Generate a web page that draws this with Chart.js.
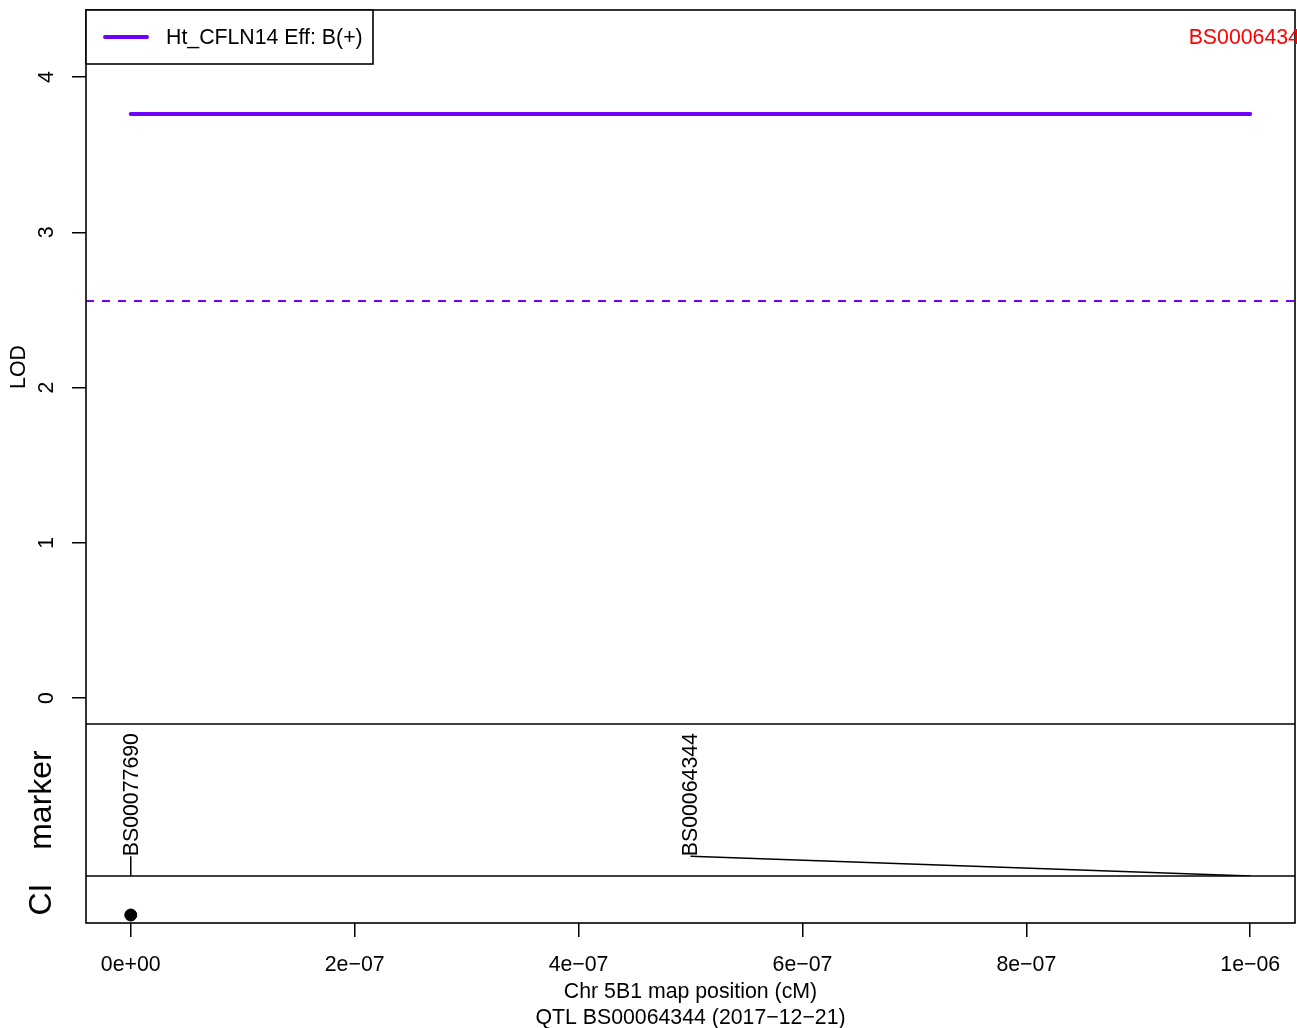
<!DOCTYPE html>
<html><head><meta charset="utf-8">
<script src="https://cdn.jsdelivr.net/npm/chart.js@4.4.1/dist/chart.umd.min.js"></script>
<style>html,body{margin:0;padding:0;background:#fff;overflow:hidden}#wrap{width:1297px;height:1028px}</style>
</head><body><div id="wrap"><canvas id="c" width="1297" height="1028"></canvas></div>
<script>
// ---- data ----
const xTickValues = [0, 2e-7, 4e-7, 6e-7, 8e-7, 1e-6];
const xTickLabels = ["0e+00", "2e\u221207", "4e\u221207", "6e\u221207", "8e\u221207", "1e\u221206"];
const yTickValues = [0, 1, 2, 3, 4];
const lodPositions = [0, 1e-6];
const lodValues = [3.762, 3.762];
const thresholdLOD = 2.557;
const markerNames = ["BS00077690", "BS00064344"];
const markerPositions = [0, 1e-6];
const markerLabelPositions = [0, 5e-7];
const ciPositions = [0];
const peakMarker = "BS00064344";
const peakPosition = 1e-6;
const traitLabel = "Ht_CFLN14 Eff: B(+)";
const xRange = [-0.04e-6, 1.04e-6];
const lodRange = [-0.1675, 4.4316];

// ---- style ----
const FONT = '"Liberation Sans", Arial, Helvetica, sans-serif';
const BASE = 21.3;
const PURPLE = '#6f00ff';
const MARKER_LABEL_Y = 0.13;
const CI_Y = 0.17;

Chart.defaults.font.family = FONT;
Chart.defaults.font.size = BASE;
Chart.defaults.color = '#000';

const datasets = [
  {
    label: traitLabel, type: 'line', yAxisID: 'y',
    data: lodPositions.map((x, i) => ({x, y: lodValues[i]})),
    borderColor: PURPLE, borderWidth: 4, borderCapStyle: 'round', pointRadius: 0, fill: false
  },
  {
    label: 'threshold', type: 'line', yAxisID: 'y',
    data: xRange.map(x => ({x, y: thresholdLOD})),
    borderColor: PURPLE, borderWidth: 2, borderDash: [8, 8], pointRadius: 0, fill: false
  }
];
markerNames.forEach((n, i) => {
  datasets.push({
    label: 'm_' + n, type: 'line', yAxisID: 'yMarker',
    data: [{x: markerLabelPositions[i], y: MARKER_LABEL_Y}, {x: markerPositions[i], y: 0}],
    borderColor: '#000', borderWidth: 1.5, pointRadius: 0, fill: false
  });
});
datasets.push({
  label: 'CI', type: 'scatter', yAxisID: 'yCI',
  data: ciPositions.map(x => ({x, y: CI_Y})),
  backgroundColor: '#000', borderColor: '#000', pointRadius: 6, borderWidth: 1
});

const decor = {
  id: 'decor',
  afterDraw(chart) {
    const ctx = chart.ctx, a = chart.chartArea, s = chart.scales;
    ctx.save();
    ctx.strokeStyle = '#000'; ctx.lineWidth = 1.6;
    ctx.strokeRect(a.left, a.top, a.right - a.left, a.bottom - a.top);
    [s.yMarker.top, s.yCI.top].forEach(y => {
      ctx.beginPath(); ctx.moveTo(a.left, y); ctx.lineTo(a.right, y); ctx.stroke();
    });
    // legend
    const lw = 287, lh = 54;
    ctx.fillStyle = '#fff';
    ctx.fillRect(a.left, a.top, lw, lh);
    ctx.strokeRect(a.left, a.top, lw, lh);
    ctx.strokeStyle = PURPLE; ctx.lineWidth = 4; ctx.lineCap = 'round';
    ctx.beginPath(); ctx.moveTo(a.left + 19, a.top + 27); ctx.lineTo(a.left + 61, a.top + 27); ctx.stroke();
    ctx.fillStyle = '#000'; ctx.font = BASE + 'px ' + FONT;
    ctx.textAlign = 'left'; ctx.textBaseline = 'middle';
    ctx.fillText(traitLabel, a.left + 80, a.top + 28);
    // peak marker label
    ctx.fillStyle = '#ff0000'; ctx.textAlign = 'center';
    ctx.fillText(peakMarker, s.x.getPixelForValue(peakPosition), a.top + 28);
    // marker labels
    ctx.fillStyle = '#000'; ctx.textAlign = 'left';
    markerNames.forEach((n, i) => {
      ctx.save();
      ctx.translate(s.x.getPixelForValue(markerLabelPositions[i]), s.yMarker.getPixelForValue(MARKER_LABEL_Y));
      ctx.rotate(-Math.PI / 2);
      ctx.fillText(n, 0, 1);
      ctx.restore();
    });
    ctx.restore();
  }
};

const leftFit = s => { s.width = 86; s.paddingTop = 0; s.paddingBottom = 0; };

new Chart(document.getElementById('c'), {
  data: {datasets},
  options: {
    responsive: false, animation: false, devicePixelRatio: 1,
    layout: {autoPadding: false, padding: {left: 0, top: 10, right: 2, bottom: 0}},
    plugins: {legend: {display: false}, tooltip: {enabled: false}},
    scales: {
      x: {
        type: 'linear', position: 'bottom', min: xRange[0], max: xRange[1],
        afterBuildTicks: sc => { sc.ticks = xTickValues.map(v => ({value: v})); },
        afterFit: sc => { sc.height = 105; sc.paddingLeft = 0; sc.paddingRight = 0; },
        ticks: {
          callback: (v) => { const i = xTickValues.indexOf(v); return i >= 0 ? xTickLabels[i] : ''; },
          padding: 15, maxRotation: 0, autoSkip: false
        },
        grid: {display: true, drawOnChartArea: false, drawTicks: true, tickLength: 14, color: '#000', lineWidth: 1.5},
        border: {display: false},
        title: {display: true, text: ['Chr 5B1 map position (cM)', 'QTL ' + peakMarker + ' (2017\u221212\u221221)'],
          font: {size: BASE, lineHeight: 1.22}, padding: {top: 0, bottom: -3}}
      },
      yCI: {
        type: 'linear', position: 'left', stack: 'panels', stackWeight: 47,
        min: 0, max: 1, afterFit: leftFit,
        ticks: {display: false}, grid: {display: false}, border: {display: false},
        title: {display: true, text: 'CI', font: {size: 32}, padding: {top: 23, bottom: 0}}
      },
      yMarker: {
        type: 'linear', position: 'left', stack: 'panels', stackWeight: 152,
        min: 0, max: 1, afterFit: leftFit,
        ticks: {display: false}, grid: {display: false}, border: {display: false},
        title: {display: true, text: 'marker', font: {size: 32}, padding: {top: 23, bottom: 0}}
      },
      y: {
        type: 'linear', position: 'left', stack: 'panels', stackWeight: 714,
        min: lodRange[0], max: lodRange[1],
        afterBuildTicks: sc => { sc.ticks = yTickValues.map(v => ({value: v})); },
        afterFit: leftFit,
        ticks: {minRotation: 90, maxRotation: 90, crossAlign: 'center', padding: 19, autoSkip: false},
        grid: {display: true, drawOnChartArea: false, drawTicks: true, tickLength: 14, color: '#000', lineWidth: 1.5},
        border: {display: false},
        title: {display: true, text: 'LOD', font: {size: BASE}, padding: {top: 6, bottom: 0}}
      }
    }
  },
  plugins: [decor]
});
</script></body></html>
